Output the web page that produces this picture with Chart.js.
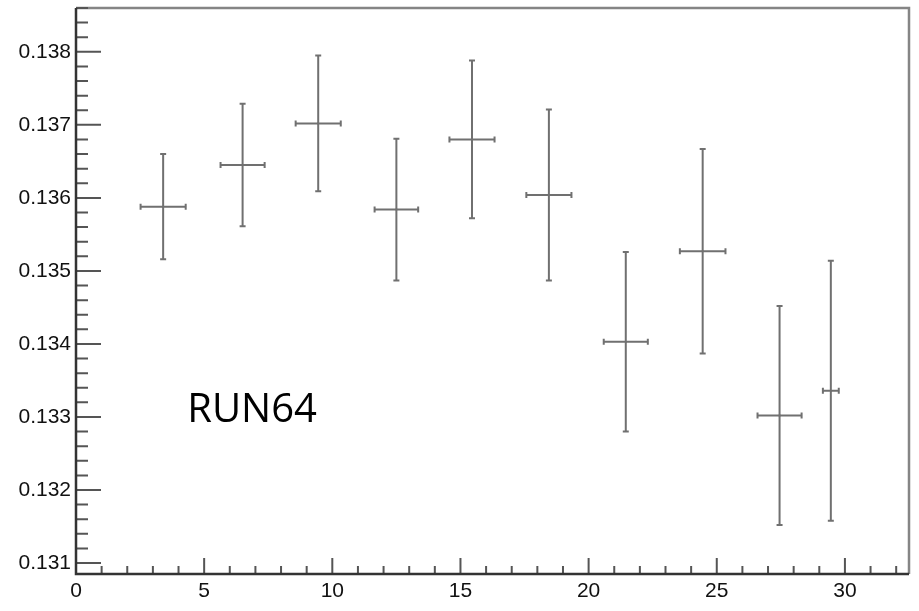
<!DOCTYPE html>
<html>
<head>
<meta charset="utf-8">
<script src="https://cdn.jsdelivr.net/npm/chart.js@4"></script>
<style>
    body { margin: 0; background: #fff; }
    canvas { display: block; }
</style>
</head>
<body>
<canvas id="runChart" width="919" height="611"></canvas>
<script>
// measurements, RUN64
var xValues = [3.4, 6.5, 9.45, 12.5, 15.45, 18.45, 21.45, 24.45, 27.45, 29.45];
var xErrors = [0.88, 0.86, 0.88, 0.85, 0.88, 0.88, 0.86, 0.89, 0.86, 0.31];
var yValues = [0.13588, 0.13645, 0.13702, 0.13584, 0.13680, 0.13604, 0.13403, 0.13527, 0.13302, 0.13336];
var yErrors = [0.00072, 0.00084, 0.00093, 0.00097, 0.00108, 0.00117, 0.00123, 0.00140, 0.00150, 0.00178];

var xTickLabels = [0, 5, 10, 15, 20, 25, 30];
var yTickLabels = [0.131, 0.132, 0.133, 0.134, 0.135, 0.136, 0.137, 0.138];
var runLabel = 'RUN64';

document.addEventListener('DOMContentLoaded', function () {
    var points = xValues.map(function (x, i) {
        return { x: x, y: yValues[i] };
    });

    var errorBars = {
        id: 'errorBars',
        afterDatasetsDraw: function (chart) {
            var ctx = chart.ctx;
            var xs = chart.scales.x;
            var ys = chart.scales.y;
            ctx.save();
            ctx.strokeStyle = '#707070';
            ctx.lineWidth = 2;
            for (var i = 0; i < xValues.length; i++) {
                var cx = xs.getPixelForValue(xValues[i]);
                var cy = ys.getPixelForValue(yValues[i]);
                var x1 = xs.getPixelForValue(xValues[i] - xErrors[i]);
                var x2 = xs.getPixelForValue(xValues[i] + xErrors[i]);
                var y1 = ys.getPixelForValue(yValues[i] + yErrors[i]);
                var y2 = ys.getPixelForValue(yValues[i] - yErrors[i]);
                ctx.beginPath();
                ctx.moveTo(x1, cy); ctx.lineTo(x2, cy);
                ctx.moveTo(cx, y1); ctx.lineTo(cx, y2);
                // little end caps
                ctx.moveTo(x1, cy - 3); ctx.lineTo(x1, cy + 3);
                ctx.moveTo(x2, cy - 3); ctx.lineTo(x2, cy + 3);
                ctx.moveTo(cx - 3, y1); ctx.lineTo(cx + 3, y1);
                ctx.moveTo(cx - 3, y2); ctx.lineTo(cx + 3, y2);
                ctx.stroke();
            }
            ctx.restore();
        }
    };

    var frame = {
        id: 'frame',
        afterDraw: function (chart) {
            var ctx = chart.ctx;
            var a = chart.chartArea;
            var xs = chart.scales.x;
            var ys = chart.scales.y;
            ctx.save();
            // top and right of the box
            ctx.strokeStyle = '#858585';
            ctx.lineWidth = 2.5;
            ctx.beginPath();
            ctx.moveTo(a.left, a.top);
            ctx.lineTo(a.right, a.top);
            ctx.lineTo(a.right, a.bottom);
            ctx.stroke();

            // ticks, drawn inward like ROOT
            ctx.strokeStyle = '#555';
            ctx.lineWidth = 2;
            ctx.beginPath();
            var v, p;
            for (v = 0; v <= 32.5; v += 1) {
                p = xs.getPixelForValue(v);
                ctx.moveTo(p, a.bottom);
                ctx.lineTo(p, a.bottom - (v % 5 === 0 ? 16 : 8));
            }
            for (var k = 0; k <= 40; k++) {
                v = 0.1310 + k * 0.0002;
                if (v > ys.max) break;
                p = ys.getPixelForValue(v);
                ctx.moveTo(a.left, p);
                ctx.lineTo(a.left + (k % 5 === 0 ? 25 : 12), p);
            }
            ctx.stroke();

            // axes
            ctx.strokeStyle = '#333';
            ctx.lineWidth = 2.5;
            ctx.beginPath();
            ctx.moveTo(a.left, a.top);
            ctx.lineTo(a.left, a.bottom);
            ctx.lineTo(a.right, a.bottom);
            ctx.stroke();

            ctx.fillStyle = '#000';
            ctx.font = '40px "Open Sans"';
            ctx.textAlign = 'center';
            ctx.textBaseline = 'alphabetic';
            ctx.fillText(runLabel, xs.getPixelForValue(6.87), ys.getPixelForValue(0.13293));
            ctx.restore();
        }
    };

    var ctx = document.getElementById('runChart').getContext('2d');
    var chart = new Chart(ctx, {
        type: 'scatter',
        data: {
            datasets: [{
                label: runLabel,
                data: points,
                pointRadius: 1,
                pointBackgroundColor: '#222',
                pointBorderWidth: 0
            }]
        },
        options: {
            responsive: false,
            animation: false,
            layout: {
                padding: { top: 8, right: 10, left: 0, bottom: 0 }
            },
            plugins: {
                legend: { display: false },
                tooltip: { enabled: false }
            },
            scales: {
                x: {
                    type: 'linear',
                    min: 0,
                    max: 32.5,
                    afterFit: function (scale) {
                        scale.height = 37;
                        scale.paddingLeft = 0;
                        scale.paddingRight = 0;
                    },
                    grid: { display: false, drawTicks: false },
                    border: { display: false },
                    afterBuildTicks: function (scale) {
                        scale.ticks = xTickLabels.map(function (v) { return { value: v }; });
                    },
                    ticks: {
                        padding: 5,
                        maxRotation: 0,
                        autoSkip: false,
                        color: '#111',
                        font: { family: '"Liberation Sans", Arial', size: 21 },
                        callback: function (v) { return String(v); }
                    }
                },
                y: {
                    type: 'linear',
                    min: 0.13085,
                    max: 0.1386,
                    afterFit: function (scale) {
                        scale.width = 76;
                        scale.paddingTop = 0;
                        scale.paddingBottom = 0;
                    },
                    grid: { display: false, drawTicks: false },
                    border: { display: false },
                    afterBuildTicks: function (scale) {
                        scale.ticks = yTickLabels.map(function (v) { return { value: v }; });
                    },
                    ticks: {
                        padding: 5,
                        autoSkip: false,
                        color: '#111',
                        font: { family: '"Liberation Sans", Arial', size: 21 },
                        callback: function (v) { return Number(v).toFixed(3); }
                    }
                }
            }
        },
        plugins: [errorBars, frame]
    });
});
</script>
</body>
</html>
